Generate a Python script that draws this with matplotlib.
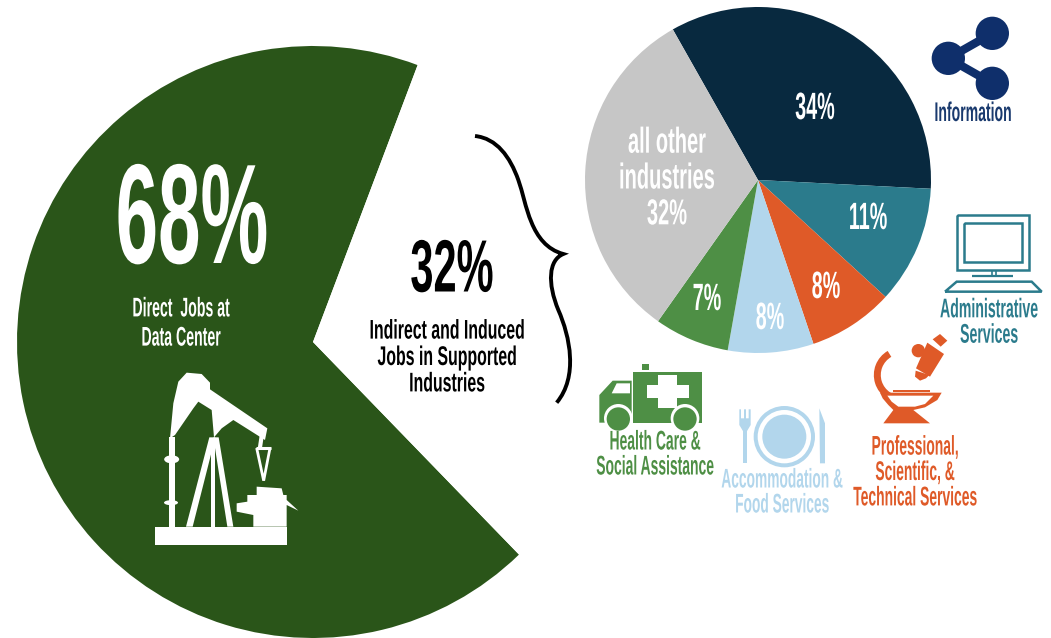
import matplotlib
matplotlib.use("Agg")
import matplotlib.pyplot as plt
from matplotlib.patches import Polygon, Circle, Ellipse, Arc, PathPatch
from matplotlib.path import Path
from matplotlib.patheffects import AbstractPathEffect
from matplotlib.transforms import Affine2D

W, H = 1051, 638

# job shares
jobs_values = [68, 32]
industry_names = ["Information", "Administrative\nServices",
                  "Professional,\nScientific, &\nTechnical Services",
                  "Accommodation &\nFood Services",
                  "Health Care &\nSocial Assistance", "all other\nindustries"]
industry_values = [34, 11, 8, 8, 7, 32]
industry_colors = ["#08293f", "#2b7b8c", "#df5a28", "#b2d6ec", "#4e8f45", "#c6c6c6"]
dark_green = "#2a5519"
share_blue = "#0f2f6b"


class Squeeze(AbstractPathEffect):
    # narrows glyphs horizontally around a fixed x, gives a condensed poster face
    def __init__(self, cx, sx):
        super().__init__()
        self.cx, self.sx = cx, sx

    def draw_path(self, renderer, gc, tpath, affine, rgbFace=None):
        t = affine + Affine2D().translate(-self.cx, 0).scale(self.sx, 1).translate(self.cx, 0)
        renderer.draw_path(gc, tpath, t, rgbFace)


fig = plt.figure(figsize=(W / 100, H / 100), dpi=100, facecolor="white")

# pies use an upright y axis
ax_pie = fig.add_axes([0, 0, 1, 1])
ax_pie.pie(jobs_values, colors=[dark_green, "white"], center=(313, H - 342), radius=296,
           startangle=69.3, counterclock=True)
ax_pie.pie(industry_values, colors=industry_colors, center=(758, H - 180), radius=173,
           startangle=119.5, counterclock=False)
ax_pie.set_xlim(0, W)
ax_pie.set_ylim(0, H)
ax_pie.set_aspect("equal")
ax_pie.axis("off")

# everything else in image-style coordinates, y down
ax = fig.add_axes([0, 0, 1, 1])
ax.set_xlim(0, W)
ax.set_ylim(H, 0)
ax.axis("off")
ax.patch.set_alpha(0)


def label(x, y, s, px, color, sx=0.52, ls=1.0):
    ax.text(x, y, s, fontsize=px * 0.72, color=color, ha="center", va="center", linespacing=ls,
            family=["Liberation Sans Narrow", "Liberation Sans"], fontweight="bold",
            path_effects=[Squeeze(x, sx)])


def shape(pts, ox, oy, color):
    # icon outlines are kept at 3x, offset to their place on the page
    ax.add_patch(Polygon([(ox + a / 3, oy + b / 3) for a, b in pts], closed=True, fc=color, ec="none"))


def line(pts, ox, oy, color, lw):
    ax.plot([ox + a / 3 for a, b in pts], [oy + b / 3 for a, b in pts], color=color, lw=lw,
            solid_capstyle="butt", solid_joinstyle="miter")


def disc(x, y, r, ox, oy, color):
    ax.add_patch(Circle((ox + x / 3, oy + y / 3), r / 3, fc=color, ec="none"))


# curly brace
ox, oy = 460, 120
brace_pts = [(45, 48), (110, 55), (150, 110), (175, 180), (200, 250), (210, 375), (310, 402),
             (265, 420), (262, 490), (295, 570), (330, 650), (355, 770), (290, 848)]
brace = Path([(ox + a / 3, oy + b / 3) for a, b in brace_pts], [Path.MOVETO] + [Path.CURVE4] * 12)
ax.add_patch(PathPatch(brace, fc="none", ec="black", lw=2.8, capstyle="butt"))

# pump jack
ox, oy = 130, 360
c = "white"
shape([(75, 500), (470, 500), (470, 555), (75, 555)], ox, oy, c)
shape([(120, 235), (130, 130), (145, 65), (170, 38), (215, 42), (240, 68), (240, 88), (412, 205),
       (405, 240), (310, 180), (275, 205), (252, 232), (245, 150), (205, 125), (190, 145), (135, 225)],
      ox, oy, c)
shape([(118, 230), (134, 230), (134, 500), (118, 500)], ox, oy, c)
shape([(238, 232), (256, 232), (188, 500), (168, 500)], ox, oy, c)
shape([(250, 232), (266, 232), (310, 500), (292, 500)], ox, oy, c)
shape([(244, 235), (255, 235), (255, 500), (244, 500)], ox, oy, c)
shape([(380, 380), (455, 385), (460, 405), (470, 405), (470, 420), (505, 452), (470, 435), (470, 500),
       (370, 500), (370, 465), (320, 455), (320, 430), (352, 425), (352, 405), (380, 405)], ox, oy, c)
ax.add_patch(Ellipse((ox + 125 / 3, oy + 298 / 3), 15, 8, fc=c, ec="none"))
ax.add_patch(Ellipse((ox + 123 / 3, oy + 428 / 3), 14, 5, fc=c, ec="none"))
line([(395, 228), (390, 262)], ox, oy, c, 3)
line([(378, 264), (422, 264)], ox, oy, c, 2.2)
line([(380, 264), (401, 362), (420, 264)], ox, oy, c, 2)

# share symbol
ox, oy = 850, 0
c = share_blue
line([(295, 175), (427, 100)], ox, oy, c, 6)
line([(295, 175), (427, 250)], ox, oy, c, 6)
for x, y in [(295, 175), (427, 100), (427, 250)]:
    disc(x, y, 50, ox, oy, c)

# computer
c = industry_colors[1]
line([(322, 645), (537, 645), (537, 810), (322, 810), (322, 645)], ox, oy, c, 1.8)
line([(343, 668), (517, 668), (517, 787), (343, 787), (343, 668)], ox, oy, c, 1.8)
line([(425, 810), (425, 826)], ox, oy, c, 1.2)
line([(437, 810), (437, 826)], ox, oy, c, 1.2)
line([(365, 829), (490, 829)], ox, oy, c, 1.6)
line([(285, 875), (320, 845), (545, 845), (575, 875), (285, 875)], ox, oy, c, 1.8)

# microscope
ox, oy = 850, 330
c = industry_colors[2]
ax.add_patch(Arc((ox + 155 / 3, oy + 135 / 3), 48.7, 48.7, theta1=85, theta2=240, color=c, lw=5))
shape([(232, 38), (282, 72), (240, 140), (198, 115)], ox, oy, c)
shape([(248, 28), (270, 12), (292, 32), (272, 50)], ox, oy, c)
shape([(197, 122), (195, 140), (210, 152), (228, 145), (238, 135)], ox, oy, c)
disc(205, 62, 20, ox, oy, c)
shape([(130, 180), (240, 180), (240, 187), (130, 187)], ox, oy, c)
shape([(90, 188), (275, 188), (262, 210), (225, 232), (190, 240), (240, 280), (100, 280), (130, 240),
       (115, 225), (98, 205)], ox, oy, c)
shape([(112, 197), (250, 197), (225, 222), (195, 230), (145, 230), (125, 215)], ox, oy, "white")

# ambulance
ox, oy = 590, 350
c = industry_colors[4]
shape([(130, 65), (335, 65), (335, 218), (130, 218)], ox, oy, c)
shape([(28, 135), (68, 92), (125, 92), (125, 218), (28, 218)], ox, oy, c)
shape([(155, 42), (178, 42), (178, 60), (155, 60)], ox, oy, c)
shape([(65, 130), (80, 100), (120, 100), (120, 130)], ox, oy, "white")
shape([(205, 75), (262, 75), (262, 105), (298, 105), (298, 145), (262, 145), (262, 175), (205, 175),
       (205, 145), (170, 145), (170, 105), (205, 105)], ox, oy, "white")
for x in (85, 285):
    disc(x, 205, 43, ox, oy, "white")
    disc(x, 207, 35, ox, oy, c)

# place setting
c = industry_colors[3]
disc(583, 260, 92, ox, oy, c)
disc(583, 260, 80, ox, oy, "white")
disc(583, 260, 66, ox, oy, c)
shape([(458, 240), (472, 240), (472, 340), (458, 340)], ox, oy, c)
shape([(448, 178), (453, 178), (453, 205), (462, 205), (462, 178), (468, 178), (468, 205), (476, 205),
       (476, 178), (482, 178), (482, 225), (470, 245), (460, 245), (448, 225)], ox, oy, c)
shape([(688, 175), (705, 220), (705, 340), (690, 340)], ox, oy, c)

# headline numbers
label(192, 226, f"{jobs_values[0]}%", 142, "white", sx=0.537)
label(181, 324, "Direct  Jobs at\nData Center", 27, "white", sx=0.523, ls=1.16)
label(452, 272, f"{jobs_values[1]}%", 74, "black", sx=0.562)
label(447, 358, "Indirect and Induced\nJobs in Supported\nIndustries", 27, "black", sx=0.588, ls=1.02)

# pie labels
label(815, 109, f"{industry_values[0]}%", 38, "white", sx=0.52)
label(868, 219, f"{industry_values[1]}%", 38, "white", sx=0.52)
label(826, 288, f"{industry_values[2]}%", 38, "white", sx=0.52)
label(770, 319, f"{industry_values[3]}%", 38, "white", sx=0.52)
label(707, 300, f"{industry_values[4]}%", 38, "white", sx=0.52)
label(667, 179, f"{industry_names[5]}\n{industry_values[5]}%", 36, "white", sx=0.557, ls=1.03)

# category captions
label(973, 114, industry_names[0], 27, "#1a3a6e", sx=0.52)
label(989, 323, industry_names[1], 27, industry_colors[1], sx=0.523, ls=0.97)
label(915, 473, industry_names[2], 27, industry_colors[2], sx=0.514, ls=0.97)
label(782, 493, industry_names[3], 27, industry_colors[3], sx=0.51, ls=0.95)
label(655, 455, industry_names[4], 27, industry_colors[4], sx=0.515, ls=0.95)

fig.savefig("out.png", dpi=100, facecolor="white")
